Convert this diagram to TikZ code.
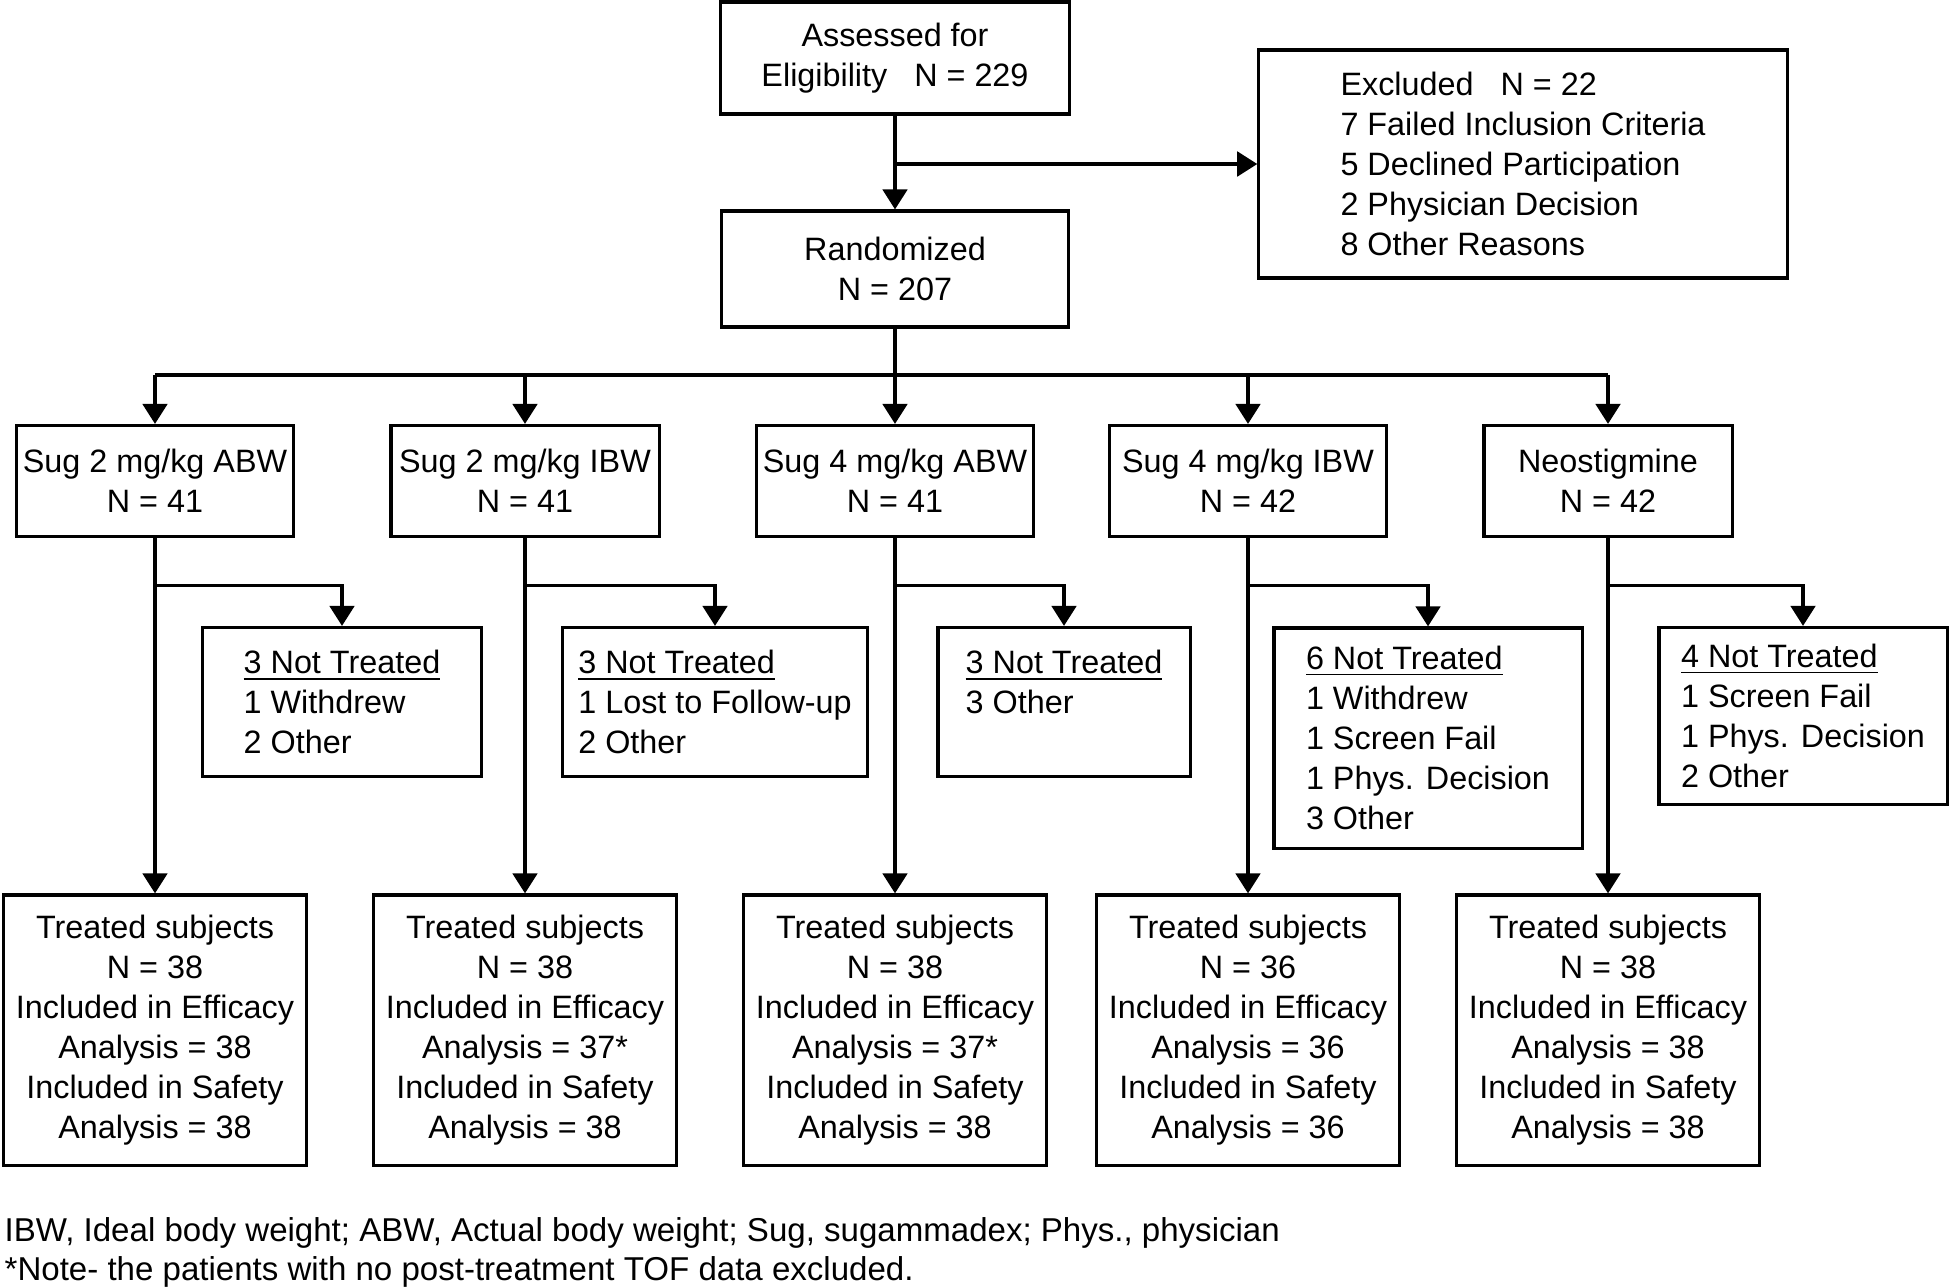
\documentclass[tikz,border=0pt]{standalone}
\usepackage{fontspec}
\setmainfont{Liberation Sans}
\usetikzlibrary{arrows.meta}

\begin{document}
\begin{tikzpicture}[x=0.01cm, y=-0.01cm,
    txt/.style={font=\fontsize{9.2pt}{11.38pt}\selectfont},
    box/.style={txt, draw, line width=0.9pt, align=center, inner sep=0pt},
    nbox/.style={box, align=left},
    arr/.style={line width=0.9pt, -{Triangle[width=7pt,length=5.7pt]}},
    line/.style={line width=0.9pt}]
    \useasboundingbox (0,0) rectangle (1949,1287);

    \node[box, minimum width=3.48cm, minimum height=1.12cm] (assess) at (895,58) {Assessed for\\Eligibility~~~N = 229};
    \node[nbox, minimum width=5.28cm, minimum height=2.28cm] (excl) at (1523,164) {Excluded~~~N = 22\\7 Failed Inclusion Criteria\\5 Declined Participation\\2 Physician Decision\\8 Other Reasons};
    \node[box, minimum width=3.46cm, minimum height=1.16cm] (rand) at (895,269) {Randomized\\N = 207};

    \node[box, minimum width=2.77cm, minimum height=1.11cm] (g1) at (155,481) {Sug 2 mg/kg ABW\\N = 41};
    \node[box, minimum width=2.68cm, minimum height=1.11cm] (g2) at (525,481) {Sug 2 mg/kg IBW\\N = 41};
    \node[box, minimum width=2.77cm, minimum height=1.11cm] (g3) at (895,481) {Sug 4 mg/kg ABW\\N = 41};
    \node[box, minimum width=2.77cm, minimum height=1.11cm] (g4) at (1248,481) {Sug 4 mg/kg IBW\\N = 42};
    \node[box, minimum width=2.48cm, minimum height=1.11cm] (g5) at (1608,481) {Neostigmine\\N = 42};

    \node[nbox, minimum width=2.79cm, minimum height=1.49cm] (n1) at (342,702) {\underline{3 Not Treated}\\1 Withdrew\\2 Other};
    \node[nbox, minimum width=3.05cm, minimum height=1.49cm] (n2) at (715,702) {\underline{3 Not Treated}\\1 Lost to Follow-up\\2 Other};
    \node[nbox, minimum width=2.52cm, minimum height=1.49cm] (n3) at (1064,702) {\underline{3 Not Treated}\\3 Other\\\mbox{}};
    \node[nbox, minimum width=3.08cm, minimum height=2.20cm] (n4) at (1428,738) {\underline{6 Not Treated}\\1 Withdrew\\1 Screen Fail\\1 Phys. Decision\\3 Other};
    \node[nbox, minimum width=2.88cm, minimum height=1.77cm] (n5) at (1803,716) {\underline{4 Not Treated}\\1 Screen Fail\\1 Phys. Decision\\2 Other};

    \foreach \i/\x/\n/\e/\s in {1/155/38/38/38, 2/525/38/37*/38, 3/895/38/37*/38, 4/1248/36/36/36, 5/1608/38/38/38}{
        \node[box, minimum width=3.03cm, minimum height=2.70cm] (t\i) at (\x,1030) {Treated subjects\\N = \n\\Included in Efficacy\\Analysis = \e\\Included in Safety\\Analysis = \s};
    }

    \node[font=\fontsize{9.4pt}{11.4pt}\selectfont, anchor=base west, inner sep=0pt] (fn1) at (4,1241) {IBW, Ideal body weight; ABW, Actual body weight; Sug, sugammadex; Phys., physician};
    \node[font=\fontsize{9.4pt}{11.4pt}\selectfont, anchor=base west, inner sep=0pt] (fn2) at (4,1280) {*Note- the patients with no post-treatment TOF data excluded.};

    \coordinate (split) at (895,375);
    \draw[arr] (assess) -- (rand);
    \draw[arr] (assess.south |- excl.west) -- (excl.west);
    \draw[line] (rand) -- (split);
    \draw[line] (g1.north |- split) -- (g5.north |- split);
    \foreach \i in {1,...,5}{
        \draw[arr] (g\i.north |- split) -- (g\i.north);
        \draw[arr] (g\i.south) -- (t\i.north);
        \draw[arr] (g\i.south) ++(0,47) -| (n\i.north);
    }
\end{tikzpicture}
\end{document}
